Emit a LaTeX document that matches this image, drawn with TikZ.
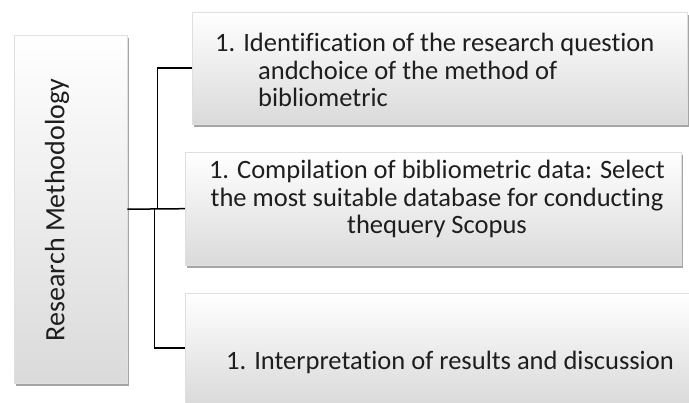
\documentclass[tikz,border=0pt]{standalone}
\usepackage{fontspec}
\setmainfont[Ligatures={NoCommon}]{Carlito}
\usetikzlibrary{shadows,calc}
\definecolor{boxlo}{HTML}{DADADA}
\definecolor{txt}{HTML}{1E1E1E}
\begin{document}
\begin{tikzpicture}[x=1pt,y=-1pt,
  box/.style={rectangle, inner sep=0pt, top color=white, bottom color=boxlo, draw=gray!25, line width=0.4pt,
    drop shadow={shadow xshift=1.5pt, shadow yshift=-3pt, opacity=0.5, fill=black!70}},
  conn/.style={draw=black, line width=1.5pt},
  lbl/.style={inner sep=0pt, text=txt, font=\fontsize{26.5}{27.5}\selectfont}]
\clip (0,0) rectangle (689,403);
\fill[white] (0,0) rectangle (689,403);
% boxes
\node[box, minimum width=113pt, minimum height=348pt, anchor=north west] (rm) at (14,35) {};
\node[box, minimum width=495pt, minimum height=112pt, anchor=north west] (b1) at (192,12) {};
\node[box, minimum width=496pt, minimum height=113pt, anchor=north west] (b2) at (185,152) {};
\node[box, minimum width=510pt, minimum height=110pt, anchor=north west] (b3) at (185,293) {};
% texts
\node[lbl, rotate=90, font=\fontsize{28}{29}\selectfont] (rmt) at (57,210) {Research Methodology};
\node[lbl, anchor=north west, align=left] (t1) at (215,33) {1. Identification of the research question\\\hspace*{43pt}andchoice of the method of\\\hspace*{43pt}bibliometric};
\node[lbl, align=center] (t2) at (437,199) {1. Compilation of bibliometric data: Select\\the most suitable database for conducting\\thequery Scopus};
\node[lbl] (t3) at (450,362) {1. Interpretation of results and discussion};
% connectors
\coordinate (j1) at ($(rm.east)+(30,0)$);
\coordinate (j2) at ($(rm.east)+(27,0)$);
\draw[conn] (rm.east) -- (b2.west);
\draw[conn] (j1) |- (b1.west);
\draw[conn] (j2) |- (b3.west);
\end{tikzpicture}
\end{document}
